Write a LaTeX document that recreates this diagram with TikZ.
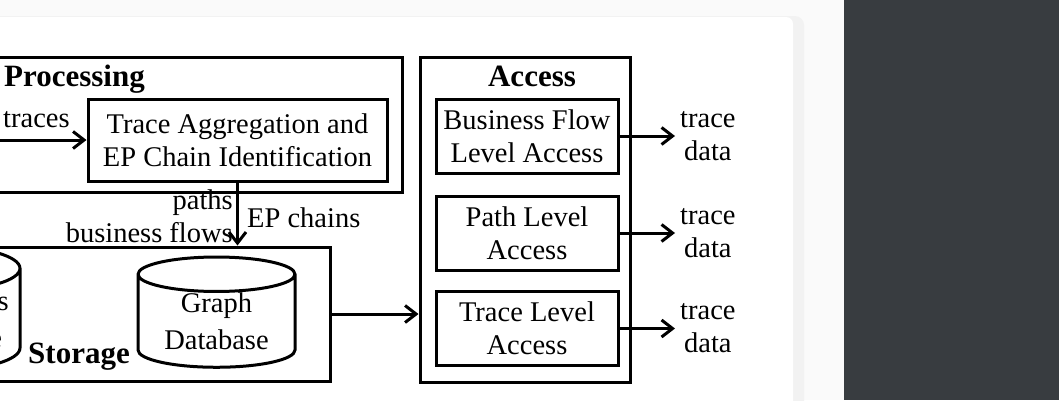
\documentclass[tikz,border=0pt]{standalone}
\usepackage{fontspec}
\setmainfont{Liberation Serif}
\usetikzlibrary{arrows.meta,shapes.geometric}

\definecolor{panel}{HTML}{383C40}
\definecolor{pagebg}{HTML}{FAFAFA}

\tikzset{
  frame/.style={draw, line width=3pt, inner sep=0pt},
  box/.style={draw, line width=3pt, align=center, inner sep=0pt,
    font=\fontsize{28.5}{33}\selectfont},
  txt/.style={align=center, inner sep=0pt, font=\fontsize{28.5}{33}\selectfont},
  ttl/.style={inner sep=0pt, font=\fontsize{31}{36}\selectfont\bfseries},
  db/.style={cylinder, draw, line width=3pt, shape border rotate=90,
    aspect=0.33, align=center, inner sep=0pt,
    font=\fontsize{28.5}{37}\selectfont},
  arr/.style={line width=3pt, -{Straight Barb[length=11pt,width=17pt]}},
}

\begin{document}
\begin{tikzpicture}[x=1pt,y=-1pt]

% page, card and side panel
\useasboundingbox (0,0) rectangle (1059,400);
\clip (0,0) rectangle (1059,400);
\fill[pagebg] (0,0) rectangle (1059,400);
\fill[black!5, rounded corners=9] (-30,16) rectangle (804,430);
\fill[white, rounded corners=7] (-30,17) rectangle (793,430);
\fill[panel] (844,0) rectangle (1059,400);

% processing
\node[frame, minimum width=422, minimum height=135] (proc) at (191,124.5) {};
\node[ttl, anchor=base west] (proct) at (4,86) {Processing};
\node[box, minimum width=299, minimum height=82] (agg) at (237.5,140)
  {Trace Aggregation and\\EP Chain Identification};
\coordinate (tin) at (-10,140);
\draw[arr] (tin) -- (agg);
\node[txt, anchor=base west] (tlab) at (3,127) {traces};

% storage
\node[frame, minimum width=350, minimum height=134] (store) at (155,314) {};
\node[db, minimum width=157, minimum height=107] (gdb) at (216.5,321.5)
  {Graph\\Database};
\node[db, minimum width=157, minimum height=104] (rdb) at (-58.5,320)
  {Raw Traces\\Data Store};
\node[ttl, anchor=base west] (storet) at (28,363) {Storage};
\draw[arr] (agg.south) -- (agg.south |- store.north);
\node[txt, align=right, anchor=east] (plab) at (233,216) {paths\\business flows};
\node[txt, anchor=base west] (elab) at (247,227) {EP chains};

% access
\node[frame, minimum width=210, minimum height=325] (acc) at (525,219.5) {};
\node[ttl] (acct) at (532,76) {Access};
\draw[arr] (store.east) -- (store.east -| acc.west);

\foreach \n/\y/\txt in {bf/136/{Business Flow\\Level Access},
                        pl/233/{Path Level\\Access},
                        tl/328.5/{Trace Level\\Access}} {
  \node[box, minimum width=182, minimum height=74] (\n) at (527,\y) {\txt};
  \coordinate (\n out) at (675,\y);
  \draw[arr] (\n) -- (\n out);
  \node[txt, anchor=west] (\n data) at (680,\y) {trace\\data};
}

\end{tikzpicture}
\end{document}
